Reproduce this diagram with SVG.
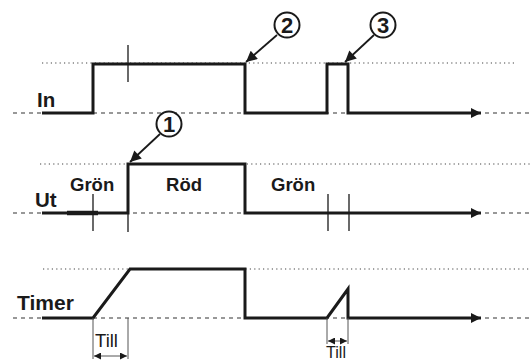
<svg xmlns="http://www.w3.org/2000/svg" width="531" height="361" viewBox="0 0 531 361">
<style>
.dot{stroke:#444;stroke-width:1.2;stroke-dasharray:1.2 3.2;fill:none}
.dash{stroke:#333;stroke-width:1.2;stroke-dasharray:4 4;fill:none}
.sig{stroke:#1a1a1a;stroke-width:3;fill:none;stroke-linejoin:miter}
.thin{stroke:#1a1a1a;stroke-width:1.3;fill:none}
.dim{stroke:#555;stroke-width:1;fill:none}
.lbl{font-family:"Liberation Sans",Arial,sans-serif;font-weight:bold;fill:#1a1a1a}
.circ{stroke:#1a1a1a;stroke-width:2;fill:#fff}
.call{stroke:#1a1a1a;stroke-width:1.8;fill:none}
</style>
<defs>
<marker id="ah" viewBox="0 0 10 10" refX="10" refY="5" markerWidth="18" markerHeight="10" markerUnits="userSpaceOnUse" orient="auto"><path d="M0,0 L10,5 L0,10 Z" fill="#1a1a1a"/></marker>
<marker id="ca" viewBox="0 0 10 10" refX="10" refY="5" markerWidth="14" markerHeight="11" markerUnits="userSpaceOnUse" orient="auto"><path d="M0,0 L10,5 L0,10 Z" fill="#1a1a1a"/></marker>
<marker id="da" viewBox="0 0 10 10" refX="10" refY="5" markerWidth="8" markerHeight="7" markerUnits="userSpaceOnUse" orient="auto-start-reverse"><path d="M0,0 L10,5 L0,10 Z" fill="#1a1a1a"/></marker>
</defs>
<g id="grid">
<line class="dot" x1="42" y1="63" x2="517" y2="63"/>
<line class="dash" x1="13" y1="113" x2="531" y2="113"/>
<line class="dot" x1="40" y1="164" x2="531" y2="164"/>
<line class="dash" x1="13" y1="213" x2="531" y2="213"/>
<line class="dot" x1="43" y1="269" x2="531" y2="269"/>
<line class="dash" x1="13" y1="318" x2="531" y2="318"/>
</g>
<g id="connectors">
<polyline class="sig" marker-end="url(#ah)" points="42,113 93,113 93,64 245,64 245,113 327,113 327,64 348,64 348,113 481,113"/>
<polyline class="sig" marker-end="url(#ah)" points="42,213 128,213 128,164 245,164 245,213 481,213"/>
<line x1="67" y1="213" x2="98" y2="213" stroke="#1a1a1a" stroke-width="4.5"/>
<polyline class="sig" marker-end="url(#ah)" points="42,318 93,318 130,269 245,269 245,318 327,318 348,289 348,318 481,318"/>
<line class="thin" x1="128" y1="45" x2="128" y2="82"/>
<line class="thin" x1="93" y1="194" x2="93" y2="231"/>
<line class="thin" x1="128" y1="213" x2="128" y2="232"/>
<line class="thin" x1="328" y1="194" x2="328" y2="231"/>
<line class="thin" x1="349" y1="194" x2="349" y2="231"/>
<line class="dim" x1="93" y1="318" x2="93" y2="359"/>
<line class="dim" x1="128" y1="318" x2="128" y2="359"/>
<line class="dim" marker-start="url(#da)" marker-end="url(#da)" x1="94" y1="356" x2="127" y2="356"/>
<line class="dim" x1="327" y1="318" x2="327" y2="344"/>
<line class="dim" x1="348" y1="318" x2="348" y2="344"/>
<line class="dim" marker-start="url(#da)" marker-end="url(#da)" x1="328" y1="341" x2="347" y2="341"/>
<line class="call" marker-end="url(#ca)" x1="160" y1="134" x2="130" y2="162"/>
<line class="call" marker-end="url(#ca)" x1="277" y1="35" x2="246" y2="62"/>
<line class="call" marker-end="url(#ca)" x1="374" y1="35" x2="345" y2="62"/>
</g>
<g id="n1"><circle class="circ" cx="169" cy="124" r="12.5"/><text class="lbl" x="169" y="132" font-size="22" text-anchor="middle">1</text></g>
<g id="n2"><circle class="circ" cx="287" cy="25" r="12.5"/><text class="lbl" x="287" y="33" font-size="22" text-anchor="middle">2</text></g>
<g id="n3"><circle class="circ" cx="383" cy="25" r="12.5"/><text class="lbl" x="383" y="33" font-size="22" text-anchor="middle">3</text></g>
<g id="labels">
<text class="lbl" x="37" y="107" font-size="20.5">In</text>
<text class="lbl" x="35" y="207" font-size="20.5">Ut</text>
<text class="lbl" x="17" y="310" font-size="21">Timer</text>
<text class="lbl" x="70" y="191" font-size="18.5">Grön</text>
<text class="lbl" x="184" y="191" font-size="18.5" text-anchor="middle">Röd</text>
<text class="lbl" x="271" y="191" font-size="18.5">Grön</text>
<text x="95" y="347" font-size="19" textLength="23" lengthAdjust="spacingAndGlyphs" style="font-family:'Liberation Sans',Arial,sans-serif;fill:#1a1a1a">Till</text>
<text x="326" y="358" font-size="16" textLength="20" lengthAdjust="spacingAndGlyphs" style="font-family:'Liberation Sans',Arial,sans-serif;fill:#1a1a1a">Till</text>
</g>
</svg>
